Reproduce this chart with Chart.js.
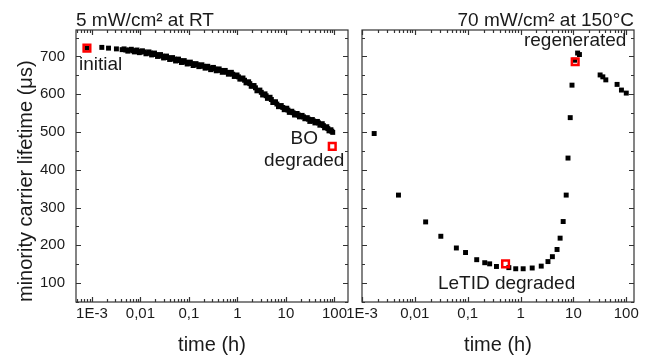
<!DOCTYPE html>
<html>
<head>
<meta charset="utf-8">
<script src="https://cdn.jsdelivr.net/npm/chart.js@4"></script>
<style>
  body { margin: 0; background: #fff; }
  #wrap { position: relative; width: 648px; height: 358px; }
  canvas { position: absolute; left: 0; top: 0; }
</style>
</head>
<body>
<div id="wrap">
  <canvas id="left" width="648" height="358"></canvas>
  <canvas id="right" width="648" height="358"></canvas>
</div>
<script>
'use strict';

// left panel: 5 mW/cm2 at RT
const rtTime = [0.00079, 0.0016, 0.0022, 0.0032, 0.0042, 0.005, 0.006, 0.007, 0.008, 0.009,
    0.010, 0.012, 0.014, 0.016, 0.018, 0.021, 0.024, 0.028, 0.032, 0.037,
    0.043, 0.05, 0.057, 0.065, 0.075, 0.085, 0.1, 0.115, 0.13, 0.15,
    0.17, 0.2, 0.23, 0.26, 0.3, 0.34, 0.39, 0.45, 0.52, 0.6,
    0.7, 0.8, 0.92, 1.05, 1.2, 1.4, 1.6, 1.8, 2.05, 2.35,
    2.7, 3.1, 3.5, 3.9, 4.4, 5.0, 5.7, 6.5, 7.5, 8.6,
    9.8, 11, 12.5, 14, 16, 18, 20, 23, 26, 29,
    33, 37, 42, 47, 53, 59, 66, 73, 81, 88, 92];
const rtLifetime = [722, 724, 722, 720, 718, 717, 717, 715, 715, 713,
    712, 712, 709, 709, 706, 705, 702, 701, 698, 697,
    694, 693, 690, 689, 686, 685, 682, 681, 678, 678,
    675, 674, 671, 670, 668, 667, 664, 663, 660, 658,
    655, 653, 649, 646, 641, 637, 631, 628, 622, 617,
    610, 605, 599, 596, 591, 586, 579, 574, 568, 565,
    561, 558, 553, 551, 546, 545, 542, 540, 536, 534,
    530, 529, 526, 524, 520, 517, 512, 509, 504, 502, 499];
// the in-between measurements that make the band thick
const rtTime2 = [0.0046, 0.0055, 0.0065, 0.0075, 0.0085, 0.0095, 0.011, 0.013, 0.015, 0.017,
    0.0195, 0.0225, 0.026, 0.030, 0.0345, 0.040, 0.046, 0.053, 0.061, 0.07,
    0.08, 0.092, 0.107, 0.122, 0.14, 0.16, 0.185, 0.215, 0.245, 0.28,
    0.32, 0.365, 0.42, 0.485, 0.56, 0.65, 0.75, 0.86, 0.98, 1.12,
    1.3, 1.5, 1.7, 1.92, 2.2, 2.52, 2.9, 3.3, 3.7, 4.15,
    4.7, 5.35, 6.1, 7.0, 8.0, 9.2, 10.4, 11.7, 13.2, 15,
    17, 19, 21.5, 24.5, 27.5, 31, 35, 39.5, 44.5, 50,
    56, 62.5, 69.5, 77, 84.5];
const rtLifetime2 = [720, 714, 719, 712, 717, 710, 715, 707, 712, 704,
    709, 700, 705, 696, 701, 692, 697, 688, 693, 684,
    689, 680, 685, 676, 681, 673, 678, 669, 674, 665,
    671, 662, 667, 658, 663, 653, 658, 647, 651, 640,
    643, 630, 633, 621, 623, 609, 611, 598, 601, 589,
    592, 578, 580, 567, 570, 559, 563, 552, 555, 545,
    549, 540, 544, 535, 538, 528, 533, 524, 528, 518,
    522, 511, 514, 503, 506];
// red marks: initial, BO degraded
const rtMarkTime = [0.00079, 90];
const rtMarkLifetime = [722, 462];

// right panel: 70 mW/cm2 at 150 C
const htTime = [0.0017, 0.0049, 0.016, 0.031, 0.061, 0.091, 0.148, 0.21, 0.26, 0.35,
    0.6, 0.81, 1.12, 1.66, 2.46, 3.3, 4.0, 4.9, 5.6, 6.4,
    7.3, 7.9, 8.7, 9.4, 10.5, 12, 13, 32, 36, 41, 67, 81, 100];
const htLifetime = [496, 333, 262, 224, 193, 181, 162, 154, 151, 144,
    141, 138, 138, 140, 145, 157, 170, 189, 219, 263,
    333, 431, 538, 624, 690, 709, 705, 651, 646, 638, 626, 611, 603];
// red marks: LeTID degraded, regenerated
const htMarkTime = [0.52, 10.8];
const htMarkLifetime = [151, 686];

const xTicks = [0.001, 0.01, 0.1, 1, 10, 100];
const xTickLabels = ['1E-3', '0,01', '0,1', '1', '10', '100'];
const yTicks = [100, 200, 300, 400, 500, 600, 700];

const FONT = "'Liberation Sans', Arial, sans-serif";
const INK = '#1a1a1a';
Chart.defaults.font.family = FONT;
Chart.defaults.color = INK;

const toPoints = (xs, ys) => xs.map((x, i) => ({x: x, y: ys[i]}));

// box round the plot with inward ticks on all four sides
const framePlugin = {
    id: 'frame',
    afterDatasetsDraw(chart) {
        const {ctx, chartArea: a, scales: {x, y}} = chart;
        ctx.save();
        ctx.strokeStyle = '#333';
        ctx.lineWidth = 1.2;
        ctx.strokeRect(a.left, a.top, a.width, a.height);
        ctx.beginPath();
        for (let k = Math.floor(Math.log10(x.min)); k <= Math.ceil(Math.log10(x.max)); k++) {
            for (let m = 1; m <= 9; m++) {
                const v = m * Math.pow(10, k);
                if (v < x.min || v > x.max) continue;
                const px = Math.round(x.getPixelForValue(v)) + 0.5;
                const len = m === 1 ? 5 : 3;
                ctx.moveTo(px, a.bottom); ctx.lineTo(px, a.bottom - len);
                ctx.moveTo(px, a.top); ctx.lineTo(px, a.top + len);
            }
        }
        for (let v = 50; v <= y.max; v += 50) {
            if (v < y.min) continue;
            const py = Math.round(y.getPixelForValue(v)) + 0.5;
            const len = v % 100 === 0 ? 5 : 3;
            ctx.moveTo(a.left, py); ctx.lineTo(a.left + len, py);
            ctx.moveTo(a.right, py); ctx.lineTo(a.right - len, py);
        }
        ctx.stroke();
        ctx.restore();
    }
};

// panel title and labels next to the red marks
const notesPlugin = {
    id: 'notes',
    afterDraw(chart, args, opts) {
        const {ctx, chartArea: a, scales: {x, y}} = chart;
        ctx.save();
        ctx.fillStyle = INK;
        ctx.textBaseline = 'alphabetic';
        ctx.font = '19px ' + FONT;
        ctx.textAlign = opts.titleAlign;
        ctx.fillText(opts.title, opts.titleAlign === 'left' ? a.left : a.right, a.top - 4);
        opts.notes.forEach(n => {
            const px = x.getPixelForValue(n.t);
            const py = y.getPixelForValue(n.v);
            ctx.textAlign = n.align;
            ctx.fillText(n.text, px + n.dx, py + n.dy);
        });
        ctx.restore();
    }
};

function makePanel(id, cfg) {
    return new Chart(document.getElementById(id), {
        type: 'scatter',
        data: {
            datasets: [
                {
                    data: toPoints(cfg.markTime, cfg.markLifetime),
                    pointStyle: 'rect',
                    pointRadius: 4.7,
                    pointBorderWidth: 2.5,
                    pointBorderColor: '#ff0000',
                    pointBackgroundColor: 'rgba(0,0,0,0)'
                },
                {
                    data: toPoints(cfg.time, cfg.lifetime),
                    pointStyle: 'rect',
                    pointRadius: 3.5,
                    pointBorderWidth: 0,
                    pointBackgroundColor: '#000'
                }
            ]
        },
        options: {
            responsive: false,
            animation: false,
            events: [],
            layout: {padding: cfg.padding},
            plugins: {
                legend: {display: false},
                tooltip: {enabled: false},
                notes: cfg.notes
            },
            scales: {
                x: {
                    type: 'logarithmic',
                    min: cfg.xMin,
                    max: cfg.xMax,
                    grid: {display: false, drawTicks: false},
                    border: {display: false},
                    afterBuildTicks: s => {
                        s.ticks = xTicks.filter(v => v >= s.min && v <= s.max).map(v => ({value: v}));
                    },
                    afterFit: s => { s.height = 56; },
                    ticks: {
                        autoSkip: false,
                        maxRotation: 0,
                        padding: 3,
                        font: {size: 15},
                        callback: v => xTickLabels[xTicks.indexOf(v)]
                    },
                    title: {
                        display: true,
                        text: 'time (h)',
                        font: {size: 20},
                        padding: {top: 0, bottom: 1}
                    }
                },
                y: {
                    min: 50,
                    max: 770,
                    grid: {display: false, drawTicks: false},
                    border: {display: false},
                    afterBuildTicks: s => {
                        s.ticks = yTicks.map(v => ({value: v}));
                    },
                    afterFit: s => { s.width = cfg.yWidth; },
                    ticks: {
                        display: cfg.yLabels,
                        padding: 11,
                        font: {size: 15}
                    },
                    title: {
                        display: cfg.yLabels,
                        text: 'minority carrier lifetime (\u03bcs)',
                        align: 'start',
                        font: {size: 20},
                        padding: {top: 14, bottom: 0}
                    }
                }
            }
        },
        plugins: [framePlugin, notesPlugin]
    });
}

makePanel('left', {
    time: rtTime.concat(rtTime2), lifetime: rtLifetime.concat(rtLifetime2),
    markTime: rtMarkTime, markLifetime: rtMarkLifetime,
    xMin: 0.00047, xMax: 190,
    padding: {left: 0, top: 30, right: 300, bottom: 0},
    yWidth: 76, yLabels: true,
    notes: {
        title: '5 mW/cm\u00b2 at RT', titleAlign: 'left',
        notes: [
            {text: 'initial', t: rtMarkTime[0], v: rtMarkLifetime[0], dx: -8, dy: 22, align: 'left'},
            {text: 'BO', t: rtMarkTime[1], v: rtMarkLifetime[1], dx: -28, dy: -2, align: 'center'},
            {text: 'degraded', t: rtMarkTime[1], v: rtMarkLifetime[1], dx: -28, dy: 20, align: 'center'}
        ]
    }
});

makePanel('right', {
    time: htTime, lifetime: htLifetime,
    markTime: htMarkTime, markLifetime: htMarkLifetime,
    xMin: 0.001, xMax: 140,
    padding: {left: 330, top: 30, right: 14, bottom: 0},
    yWidth: 32, yLabels: false,
    notes: {
        title: '70 mW/cm\u00b2 at 150\u00b0C', titleAlign: 'right',
        notes: [
            {text: 'LeTID degraded', t: htMarkTime[0], v: htMarkLifetime[0], dx: 1, dy: 25, align: 'center'},
            {text: 'regenerated', t: htMarkTime[1], v: htMarkLifetime[1], dx: 0, dy: -16, align: 'center'}
        ]
    }
});
</script>
</body>
</html>
